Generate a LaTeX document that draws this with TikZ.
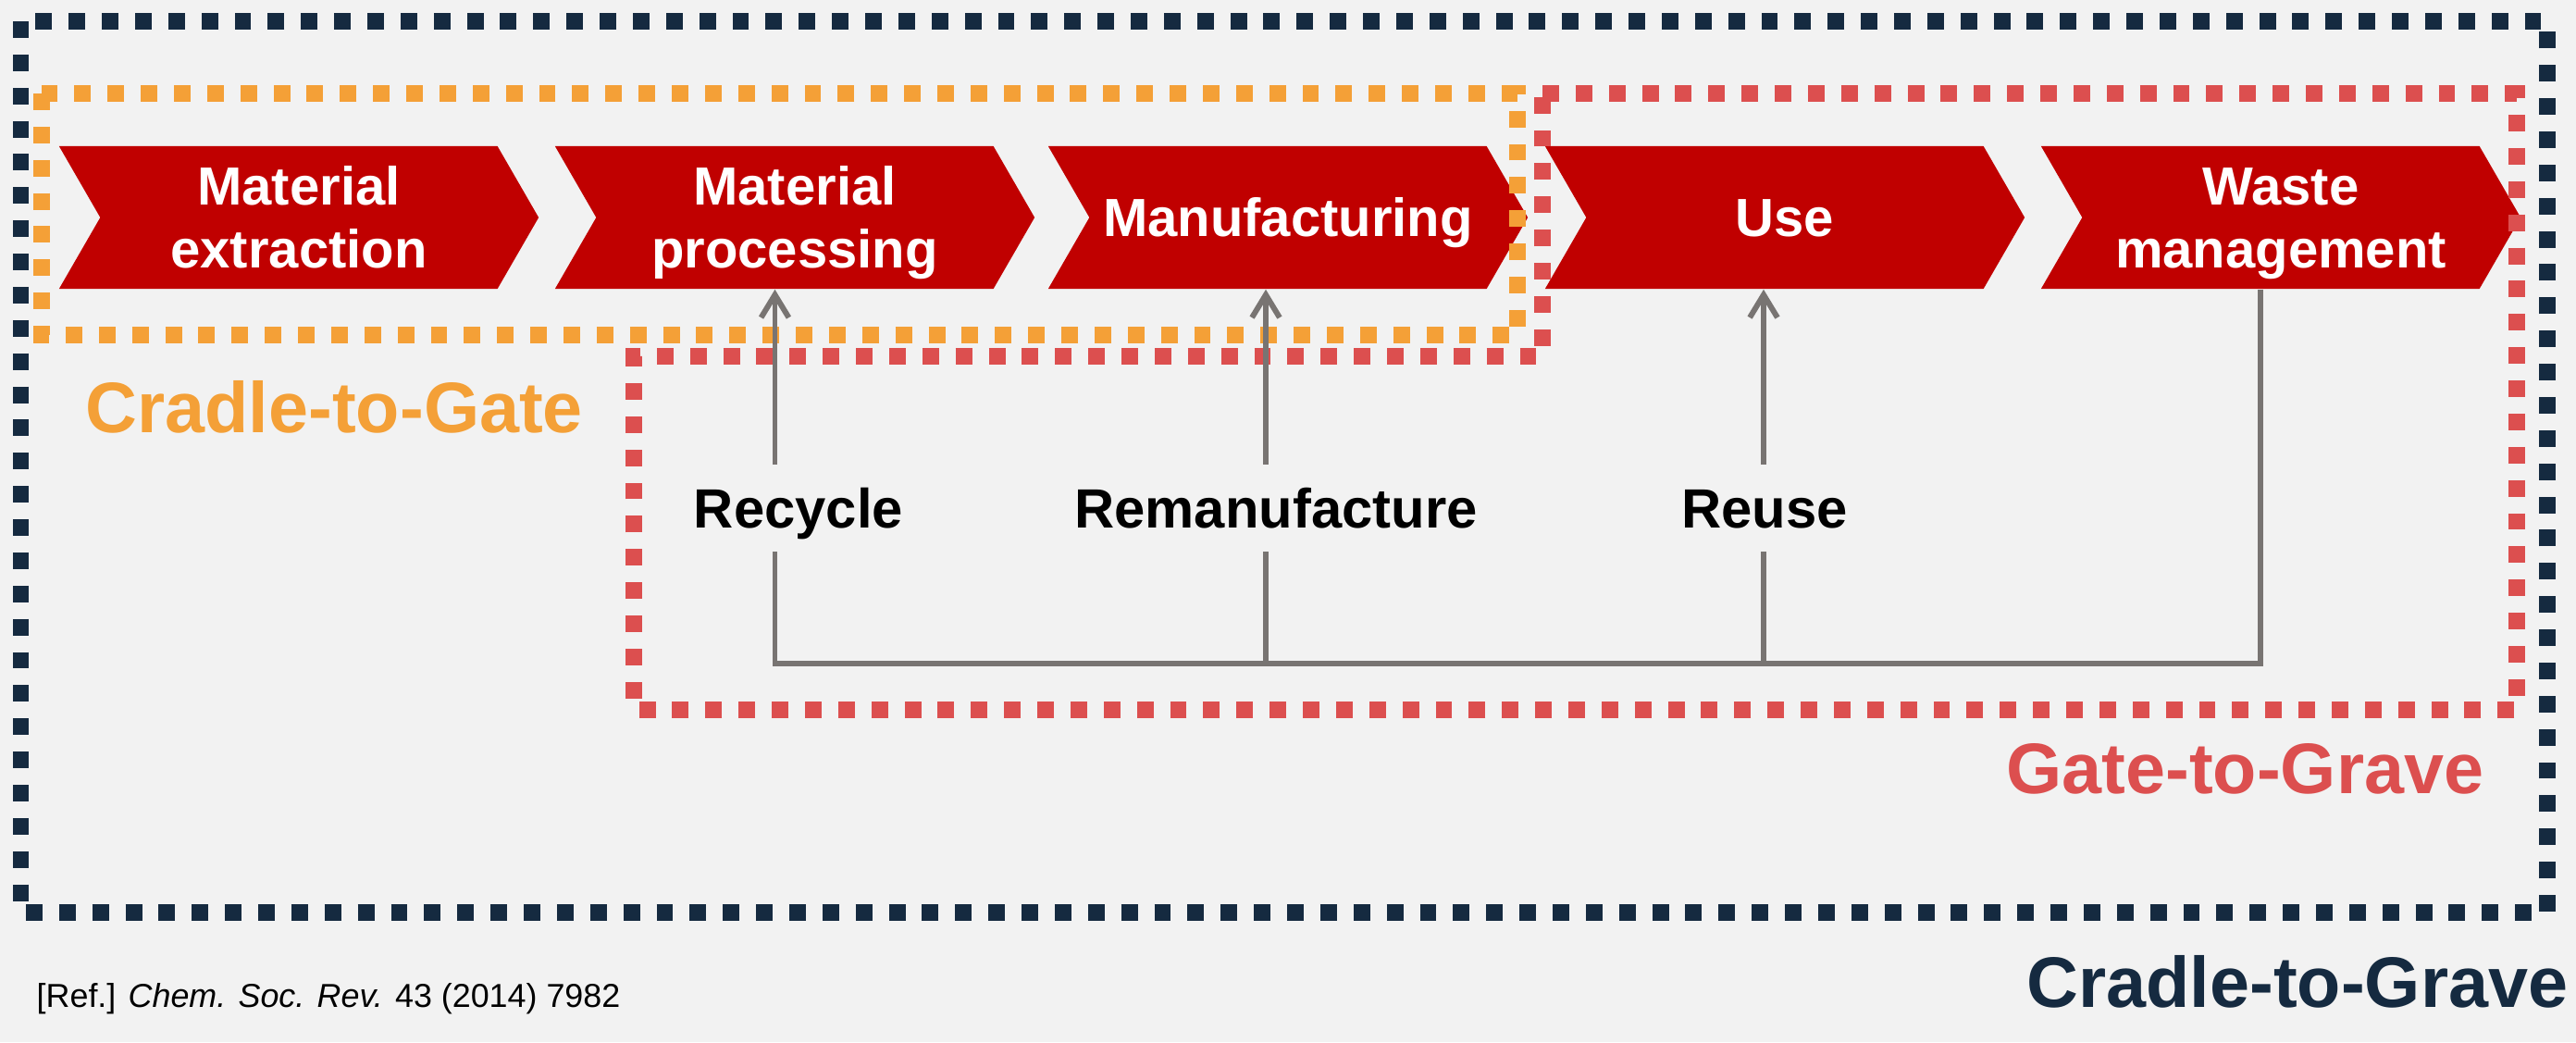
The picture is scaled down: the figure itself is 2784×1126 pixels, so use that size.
\documentclass[tikz,border=0pt]{standalone}
\usepackage{fontspec}
\setmainfont{Liberation Sans}
\usetikzlibrary{shapes.symbols,arrows.meta}
\definecolor{pagebg}{HTML}{F2F2F2}
\definecolor{navy}{HTML}{152A40}
\definecolor{gateorange}{HTML}{F4A037}
\definecolor{gravered}{HTML}{DC4F4F}
\definecolor{stagered}{HTML}{C00000}
\definecolor{loopgray}{HTML}{787472}
\newcommand{\capstrut}{\rule{0pt}{15.3pt}}
\begin{document}
\begin{tikzpicture}[x=0.01cm, y=-0.01cm,
      stage/.style = {shape=signal, signal from=west, signal to=east,
        signal pointer angle=120, fill=stagered, text=white, align=center,
        minimum width=5.18cm, minimum height=1.54cm, inner sep=0pt,
        font=\fontsize{16.5}{19.4}\selectfont\bfseries,
        execute at end node={\rule[-3.5pt]{0pt}{3.5pt}}},
      loopname/.style = {font=\fontsize{17}{20}\selectfont\bfseries,
        text height=12pt, text depth=0pt, inner xsep=2pt, inner ysep=7.2pt,
        anchor=base},
      zonename/.style = {font=\fontsize{22}{26}\selectfont\bfseries, inner sep=0pt},
      zone/.style = {line width=5.1pt, dash pattern=on 5.1pt off 5.1pt},
      flow/.style = {draw=loopgray, line width=1.7pt},
      back/.style = {flow, -{Straight Barb[length=7pt,width=8.5pt]}}]
    \fill[pagebg] (0,0) rectangle (2784,1126);
    \useasboundingbox (0,0) rectangle (2784,1126);
    \node[stage] (ext) at (323,235) {\capstrut Material\\extraction};
    \node[stage] (proc) at (859,235) {\capstrut Material\\processing};
    \node[stage] (manu) at (1392,235) {\capstrut Manufacturing};
    \node[stage] (use) at (1929,235) {\capstrut Use};
    \node[stage] (wst) at (2465,235) {\capstrut Waste\\management};
    \draw[zone, navy] (22.5,23) rectangle (2753,986);
    \draw[zone, gateorange] (45,101) rectangle (1640,362);
    \draw[zone, gravered] (1667,101) -- (2720,101) -- (2720,767) -- (685,767)
      -- (685,385) -- (1667,385) -- cycle;
    \node[loopname] (rec) at (863,570) {Recycle};
    \node[loopname] (rem) at (1379,570) {Remanufacture};
    \node[loopname] (reu) at (1907,570) {Reuse};
    \coordinate (jrec) at (837.5,717);
    \coordinate (jrem) at (1368,717);
    \coordinate (jreu) at (1906,717);
    \coordinate (jwst) at (2443,717);
    \draw[flow] (jwst |- wst.south) -- (jwst) -- (jrec) -- (jrec |- rec.south);
    \draw[flow] (jrem) -- (jrem |- rem.south);
    \draw[flow] (jreu) -- (jreu |- reu.south);
    \draw[back] (jrec |- rec.north) -- (jrec |- proc.south);
    \draw[back] (jrem |- rem.north) -- (jrem |- manu.south);
    \draw[back] (jreu |- reu.north) -- (jreu |- use.south);
    \node[zonename, text=gateorange, anchor=base west] (ctgate) at (92,467) {Cradle-to-Gate};
    \node[zonename, text=gravered, anchor=base east] (gtgrave) at (2685,857) {Gate-to-Grave};
    \node[zonename, text=navy, anchor=base east] (ctgrave) at (2776,1088) {Cradle-to-Grave};
    \node[font=\fontsize{10.2}{12}\selectfont, inner sep=0pt, anchor=base west] (ref)
      at (39,1088) {[Ref.] \textit{Chem. Soc. Rev.} 43 (2014) 7982};
\end{tikzpicture}
\end{document}
